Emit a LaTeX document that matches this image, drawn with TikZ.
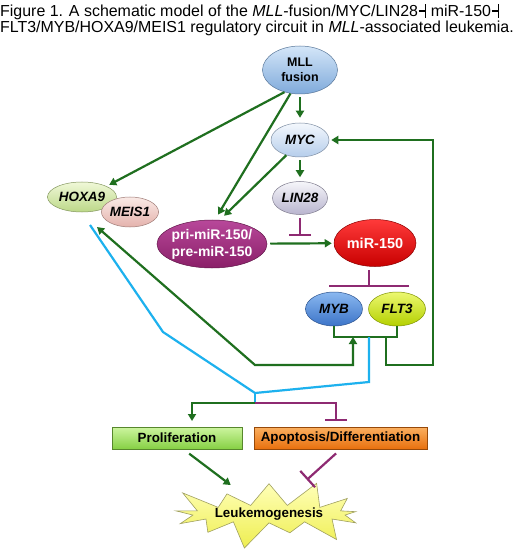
\documentclass[tikz,border=0pt]{standalone}
\usepackage{fontspec}
\setmainfont{Liberation Sans}
\usepackage{tikz}
\usetikzlibrary{calc,positioning,arrows.meta,shapes,shapes.symbols}

\definecolor{actgreen}{HTML}{1F6F1F}
\definecolor{inhpurple}{HTML}{8E2A72}
\definecolor{linkblue}{HTML}{1DB1EE}
\definecolor{mlltop}{HTML}{D4E6F8}  \definecolor{mllbot}{HTML}{7FAADB}
\definecolor{myctop}{HTML}{F4F8FD}  \definecolor{mycbot}{HTML}{B5CDEB}
\definecolor{lintop}{HTML}{F6F6FA}  \definecolor{linbot}{HTML}{B8B4CE}
\definecolor{pritop}{HTML}{B8489A}  \definecolor{pribot}{HTML}{8A1F68}
\definecolor{mirtop}{HTML}{FF3A3A}  \definecolor{mirbot}{HTML}{C80000}
\definecolor{mybtop}{HTML}{8AB8F0}  \definecolor{mybbot}{HTML}{3C74C8}
\definecolor{flttop}{HTML}{ECF870}  \definecolor{fltbot}{HTML}{B4D000}
\definecolor{hoxtop}{HTML}{F0F8D8}  \definecolor{hoxbot}{HTML}{BCD888}
\definecolor{meitop}{HTML}{FAEAE6}  \definecolor{meibot}{HTML}{E4B2AC}
\definecolor{proltop}{HTML}{CDF5A0} \definecolor{prolbot}{HTML}{86D044}
\definecolor{apotop}{HTML}{FBB060}  \definecolor{apobot}{HTML}{E8700E}
\definecolor{leuktop}{HTML}{FFFFB8} \definecolor{leukbot}{HTML}{EEEE50}
\definecolor{leukline}{HTML}{A0A060}

\newcommand{\inhsym}{\kern0.5bp\rule[4.6bp]{6bp}{1.6bp}\rule[-1.5bp]{1.8bp}{13.5bp}}

\begin{document}
\begin{tikzpicture}[x=1bp,y=-1bp, >={Triangle[length=7bp,width=8bp]},
  gene/.style 2 args={ellipse,draw=#2!70!black,line width=0.5bp,top color=#1,bottom color=#2,
    font=\fontsize{13.5}{15}\selectfont\bfseries\itshape,inner sep=0pt},
  box/.style 2 args={rectangle,draw=#2!65!black,line width=0.8bp,top color=#1,bottom color=#2,
    font=\fontsize{13.4}{15}\selectfont\bfseries,minimum height=22bp,inner sep=0pt},
  act/.style={draw=actgreen,line width=2.2bp,->},
  inh/.style={draw=inhpurple,line width=2.2bp,-{Bar[width=#1]}},
  inh/.default=22bp,
  lnk/.style={draw=linkblue,line width=2.2bp}]
  \fill[white] (0,0) rectangle (520,551);

  % title
  \node[anchor=base west,inner sep=0pt,font=\fontsize{16}{17}\selectfont] (title1) at (0,16.5)
    {Figure 1. A schematic model of the \textit{MLL}-fusion/MYC/LIN28\inhsym\ miR-150\inhsym};
  \node[anchor=base west,inner sep=0pt,font=\fontsize{16}{17}\selectfont] (title2) at (0,33)
    {FLT3/MYB/HOXA9/MEIS1 regulatory circuit in \textit{MLL}-associated leukemia.};

  % genes and RNAs
  \node[gene={mlltop}{mllbot},minimum width=75bp,minimum height=48bp,align=center,
    font=\fontsize{12.5}{15}\selectfont\bfseries] (mll) at (300,70) {MLL\\fusion};
  \node[gene={myctop}{mycbot},minimum width=58bp,minimum height=34bp] (myc) at (300,140) {MYC};
  \node[gene={lintop}{linbot},minimum width=55bp,minimum height=33bp] (lin28) at (300,198) {LIN28};
  \node[gene={pritop}{pribot},minimum width=110bp,minimum height=48bp,align=center,text=white,
    inner xsep=-3bp,font=\fontsize{14}{17}\selectfont\bfseries] (pri) at (212,244) {pri-miR-150/\\pre-miR-150};
  \node[gene={mirtop}{mirbot},minimum width=82bp,minimum height=47bp,text=white,
    font=\fontsize{14.5}{16}\selectfont\bfseries] (mir) at (375,243) {miR-150};
  \node[gene={mybtop}{mybbot},minimum width=57bp,minimum height=34bp] (myb) at (334,309) {MYB};
  \node[gene={flttop}{fltbot},minimum width=57bp,minimum height=34bp] (flt3) at (397,309) {FLT3};
  \node[gene={hoxtop}{hoxbot},minimum width=69bp,minimum height=30bp] (hoxa9) at (82,197) {HOXA9};
  \node[gene={meitop}{meibot},minimum width=56bp,minimum height=30bp] (meis1) at (130,212) {MEIS1};

  % outcomes
  \node[box={proltop}{prolbot},minimum width=130bp] (prol) at (177,438) {Proliferation};
  \node[box={apotop}{apobot},minimum width=173bp] (apo) at (340.5,438) {Apoptosis/Differentiation};
  \node[starburst,starburst points=13,starburst point height=30bp,minimum width=176bp,minimum height=30bp,
    draw=leukline,line width=0.6bp,top color=leuktop,bottom color=leukbot,inner sep=0pt,
    font=\fontsize{13.4}{15}\selectfont\bfseries] (leuk) at (269,514) {Leukemogenesis};

  % bend points
  \coordinate (linbar) at (300,236);
  \coordinate (mirbar) at (369,287);
  \coordinate (hmtip) at (97,227);
  \coordinate (hmbend) at (255,365);
  \coordinate (mybin) at (353,337);
  \coordinate (fltout) at (386,337);
  \coordinate (loop) at (433,365);
  \coordinate (hxout) at (90,225);
  \coordinate (lnkbend) at (163,332);
  \coordinate (lnkjoin) at (255,393);
  \coordinate (mfout) at (369,337);
  \coordinate (mfbend) at (369,382);
  \coordinate (fork) at (255,403);
  \coordinate (prolin) at (192,421);
  \coordinate (apoin) at (336,421);

  % connectors
  \draw[act,shorten <=3bp,shorten >=5bp] (mll) -- (myc);
  \draw[act,shorten <=3bp,shorten >=4bp] (myc) -- (lin28);
  \draw[act,shorten >=3bp] (mll.235) -- (hoxa9.north east);
  \draw[act,shorten >=6bp] (mll.248) -- (pri.83);
  \draw[act,shorten >=6bp] (myc.228) -- (pri.72);
  \draw[act,shorten <=3bp,shorten >=2bp] (pri) -- (mir);
  \draw[inh,shorten <=3bp] (lin28) -- (linbar);
  \draw[inh=80bp,shorten <=3bp] (mirbar |- mir.south) -- (mirbar);
  \draw[draw=actgreen,line width=2.2bp] (myb.south) -- (myb.south |- mybin) -| (flt3.south);
  \draw[act,<->] (hmtip) -- (hmbend) -| (mybin);
  \draw[act,shorten >=2bp] (fltout) |- (loop) |- (myc.east);
  \draw[lnk] (hxout) -- (lnkbend) -- (lnkjoin) -- (mfbend) -- (mfout);
  \draw[lnk] (lnkjoin) -- (fork);
  \draw[act] (fork) -| (prolin);
  \draw[inh] (fork) -| (apoin);
  \draw[act,shorten <=7bp,shorten >=48bp] (prol.300) -- (leuk.center);
  \draw[inh,shorten <=6bp,shorten >=51bp] (apo.south) -- (leuk.center);
\end{tikzpicture}
\end{document}
